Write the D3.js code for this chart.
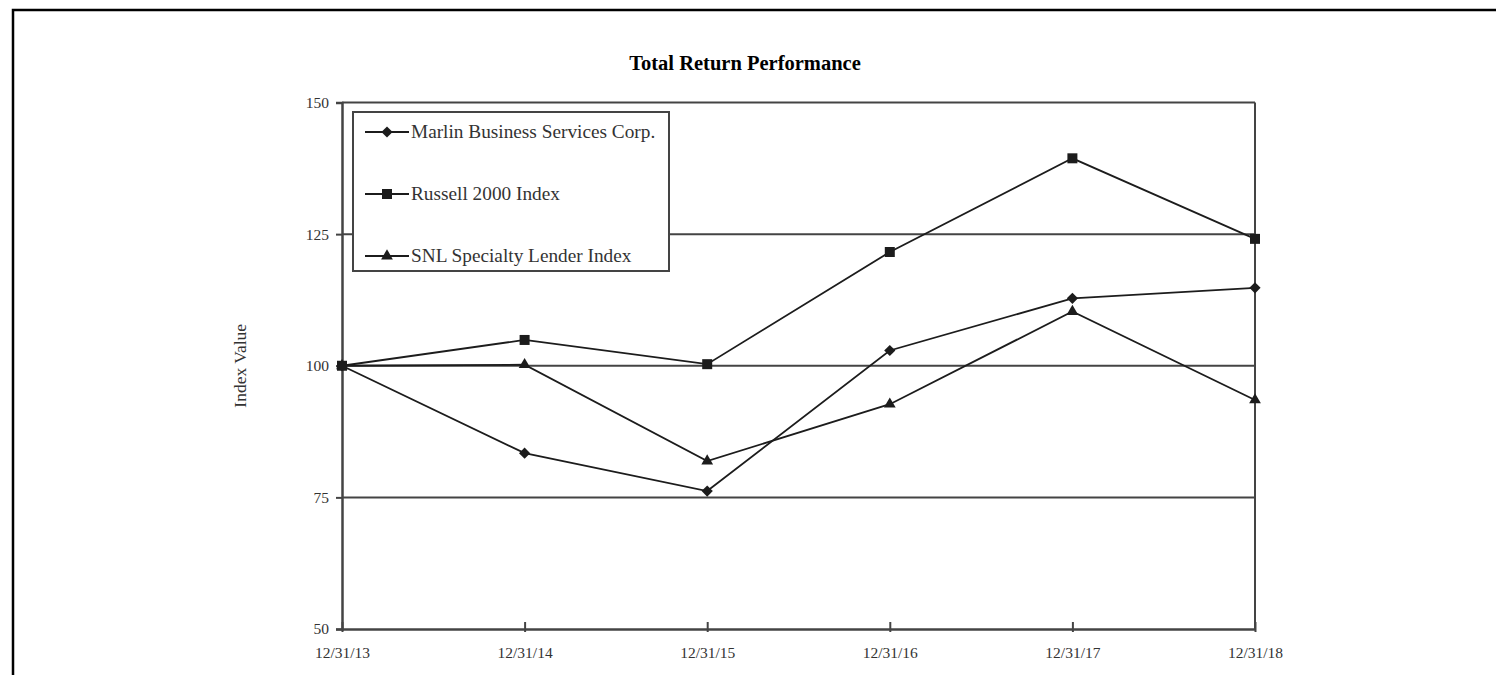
<!DOCTYPE html>
<html>
<head>
<meta charset="utf-8">
<script src="https://cdn.jsdelivr.net/npm/d3@7/dist/d3.min.js"></script>
<style>
  html, body { margin: 0; padding: 0; background: #fff; }
  svg { display: block; }
  text { font-family: "Liberation Serif", "Times New Roman", serif; }
</style>
</head>
<body>
<svg id="chart" width="1496" height="675"></svg>
<script>
const categories = ["12/31/13", "12/31/14", "12/31/15", "12/31/16", "12/31/17", "12/31/18"];
const marlin  = [100, 83.4, 76.2, 102.9, 112.8, 114.8];
const russell = [100, 104.9, 100.3, 121.6, 139.4, 124.1];
const snl     = [100, 100.2, 81.9, 92.7, 110.3, 93.5];
const seriesNames = ["Marlin Business Services Corp.", "Russell 2000 Index", "SNL Specialty Lender Index"];
const yTicks = [50, 75, 100, 125, 150];
const gridValues = [75, 100, 125];
const title = "Total Return Performance";
const yTitle = "Index Value";

(function () {
const series = [
  { name: seriesNames[0], values: marlin, symbol: d3.symbolDiamond2, size: 80 },
  { name: seriesNames[1], values: russell, symbol: d3.symbolSquare, size: 100 },
  { name: seriesNames[2], values: snl, symbol: d3.symbolTriangle, size: 60 }
];

const svg = d3.select("#chart");
const pLeft = 342, pRight = 1255, pTop = 102.5, pBottom = 629;
const ink = "#1c1c1c", axisInk = "#444";

// outer frame
svg.append("path")
  .attr("d", `M13,675 L13,10 L1496,10`)
  .attr("fill", "none").attr("stroke", "#000").attr("stroke-width", 2.5);

// title
svg.append("text").attr("x", 745).attr("y", 70).attr("text-anchor", "middle")
  .attr("font-size", 20.5).attr("font-weight", "bold").attr("fill", "#000").text(title);

const x = d3.scalePoint().domain(categories).range([pLeft, pRight]);
const y = d3.scaleLinear().domain([50, 150]).range([pBottom, pTop]);

// gridlines
svg.append("g").selectAll("line").data(gridValues).join("line")
  .attr("x1", pLeft).attr("x2", pRight)
  .attr("y1", d => y(d)).attr("y2", d => y(d))
  .attr("stroke", axisInk).attr("stroke-width", 2);

// plot frame top & right
svg.append("line").attr("x1", pLeft).attr("x2", pRight).attr("y1", pTop).attr("y2", pTop)
  .attr("stroke", axisInk).attr("stroke-width", 2);
svg.append("line").attr("x1", pRight).attr("x2", pRight).attr("y1", pTop).attr("y2", pBottom)
  .attr("stroke", axisInk).attr("stroke-width", 2);

// y axis
const yAxis = svg.append("g").attr("transform", `translate(${pLeft},0)`)
  .call(d3.axisLeft(y).tickValues(yTicks).tickSize(6).tickPadding(7).tickFormat(d3.format("d")));
yAxis.select(".domain").attr("stroke", axisInk).attr("stroke-width", 2.5);
yAxis.selectAll(".tick line").attr("stroke", axisInk).attr("stroke-width", 2);
yAxis.selectAll("text").attr("font-size", 15.5).attr("fill", "#333")
  .attr("font-family", "Liberation Serif, serif");

// x axis
const xAxis = svg.append("g").attr("transform", `translate(0,${pBottom})`)
  .call(d3.axisBottom(x).tickSizeInner(-7).tickSizeOuter(0).tickPadding(18));
xAxis.select(".domain").attr("stroke", axisInk).attr("stroke-width", 2.5);
xAxis.selectAll(".tick line").attr("stroke", axisInk).attr("stroke-width", 2).attr("y2", -7).attr("y1", 3);
xAxis.selectAll("text").attr("font-size", 15.5).attr("fill", "#333")
  .attr("font-family", "Liberation Serif, serif");

// y title
svg.append("text").attr("transform", `translate(246,${y(100)}) rotate(-90)`)
  .attr("text-anchor", "middle").attr("font-size", 17.5).attr("fill", "#333").text(yTitle);

// legend box
const lg = svg.append("g");
lg.append("rect").attr("x", 353).attr("y", 112).attr("width", 316).attr("height", 159)
  .attr("fill", "#fff").attr("stroke", axisInk).attr("stroke-width", 2);
const legendY = [132, 194, 256];
series.forEach((s, i) => {
  const ly = legendY[i];
  lg.append("line").attr("x1", 365).attr("x2", 409).attr("y1", ly).attr("y2", ly)
    .attr("stroke", ink).attr("stroke-width", 2);
  lg.append("path").attr("d", d3.symbol(s.symbol, s.size)())
    .attr("transform", `translate(387,${ly})`).attr("fill", ink);
  lg.append("text").attr("x", 411).attr("y", ly + 6).attr("font-size", 19.3)
    .attr("fill", "#333").text(s.name);
});

// lines and markers
const line = d3.line().x((d, i) => x(categories[i])).y(d => y(d));
series.forEach(s => {
  svg.append("path").datum(s.values).attr("d", line)
    .attr("fill", "none").attr("stroke", ink).attr("stroke-width", 1.8);
});
series.forEach(s => {
  svg.append("g").selectAll("path").data(s.values).join("path")
    .attr("d", d3.symbol(s.symbol, s.size)())
    .attr("transform", (d, i) => `translate(${x(categories[i])},${y(d)})`)
    .attr("fill", ink);
});
})();
</script>
</body>
</html>
